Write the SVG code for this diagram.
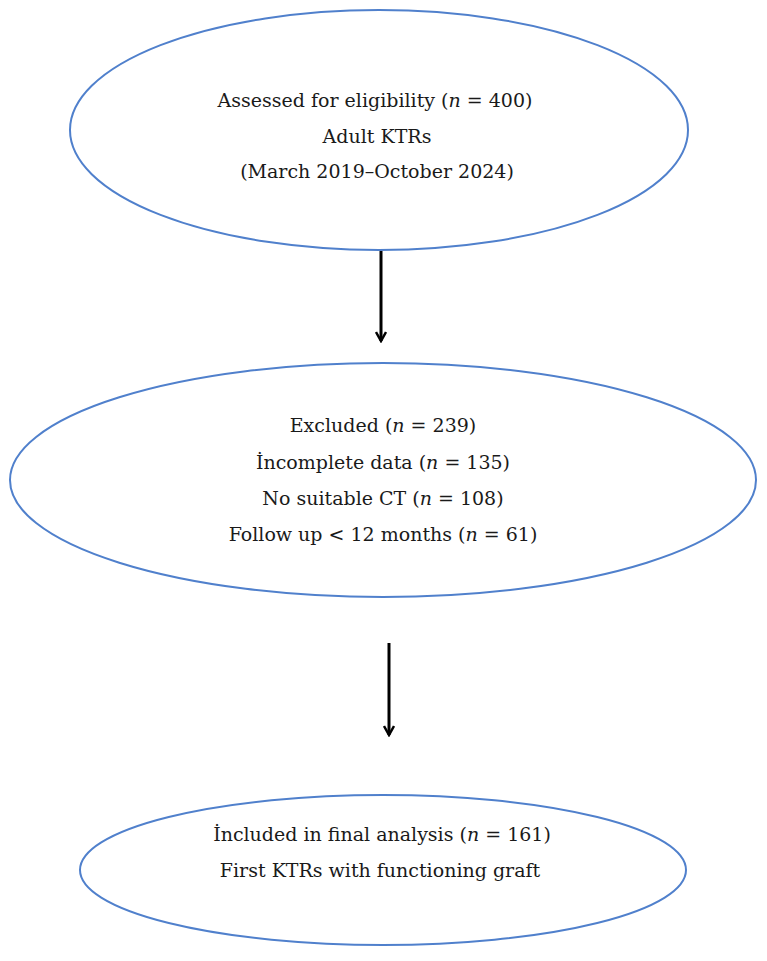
<svg xmlns="http://www.w3.org/2000/svg" width="767" height="961" viewBox="0 0 767 961">
<style>
.n{fill:#fff;stroke:#5080cc;stroke-width:2}
.t{font-family:"DejaVu Serif","Liberation Serif",serif;font-size:19px;fill:#1a1a1a;text-anchor:middle}
.c{stroke:#000;stroke-width:3;fill:none}
</style>
<defs>
<marker id="ah" viewBox="0 0 12 12" refX="10" refY="6" markerWidth="12" markerHeight="12" markerUnits="userSpaceOnUse" orient="auto">
<path d="M1,1 L10,6 L1,11" fill="none" stroke="#000" stroke-width="2.5"/>
</marker>
</defs>
<rect width="767" height="961" fill="#fff"/>
<g id="n1">
<ellipse class="n" cx="379" cy="130" rx="309" ry="120"/>
<text class="t" x="375" y="107">Assessed for eligibility (<tspan font-style="italic">n</tspan> = 400)</text>
<text class="t" x="377" y="143">Adult KTRs</text>
<text class="t" x="377" y="178">(March 2019–October 2024)</text>
</g>
<g id="n2">
<ellipse class="n" cx="383" cy="480" rx="373" ry="117"/>
<text class="t" x="383" y="432">Excluded (<tspan font-style="italic">n</tspan> = 239)</text>
<text class="t" x="383" y="469">İncomplete data (<tspan font-style="italic">n</tspan> = 135)</text>
<text class="t" x="383" y="505">No suitable CT (<tspan font-style="italic">n</tspan> = 108)</text>
<text class="t" x="383" y="541">Follow up &lt; 12 months (<tspan font-style="italic">n</tspan> = 61)</text>
</g>
<g id="n3">
<ellipse class="n" cx="383" cy="870" rx="303" ry="75"/>
<text class="t" x="382" y="841">İncluded in final analysis (<tspan font-style="italic">n</tspan> = 161)</text>
<text class="t" x="380" y="877">First KTRs with functioning graft</text>
</g>
<g id="connectors">
<line class="c" x1="381" y1="251" x2="381" y2="341" marker-end="url(#ah)"/>
<line class="c" x1="389" y1="643" x2="389" y2="735" marker-end="url(#ah)"/>
</g>
</svg>
